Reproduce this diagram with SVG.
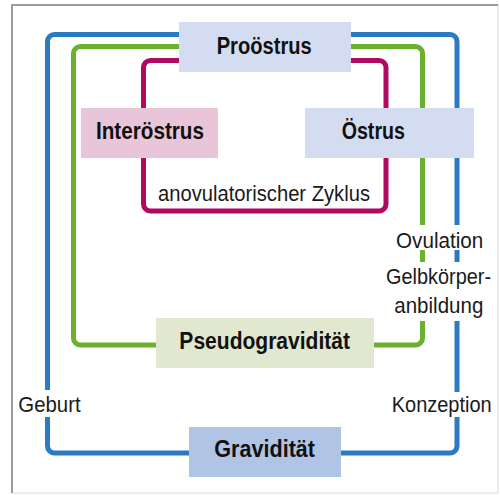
<svg xmlns="http://www.w3.org/2000/svg" width="500" height="495" viewBox="0 0 500 495">
<style>
.line{fill:none;stroke-width:5;stroke-linecap:butt}
.blue{stroke:#2a7bc1}
.green{stroke:#6bb02f}
.mag{stroke:#b0095f}
.lbl{font-family:"Liberation Sans",Arial,sans-serif;font-size:21.5px;fill:#1a1a1a}
.bold{font-family:"Liberation Sans",Arial,sans-serif;font-size:23px;font-weight:bold;fill:#111;text-anchor:middle}
</style>
<rect x="0" y="0" width="500" height="495" fill="#fff"/>
<rect x="12" y="5" width="486" height="488" fill="#fff" stroke="#d8d8d8" stroke-width="1"/>
<path d="M12 493 V5 H498" fill="none" stroke="#9c9c9c" stroke-width="2"/>
<g id="connectors">
<path class="line blue" d="M47.5 390 V41.5 A7 7 0 0 1 54.5 34.5 H450 A7 7 0 0 1 457 41.5 V225 M457 250 V262 M457 321 V392 M457 417 V446 A7 7 0 0 1 450 453 H54.5 A7 7 0 0 1 47.5 446 V417"/>
<path class="line green" d="M422.5 321 V338 A7 7 0 0 1 415.5 345 H80.5 A7 7 0 0 1 73.5 338 V53.5 A7 7 0 0 1 80.5 46.5 H415.5 A7 7 0 0 1 422.5 53.5 V225 M422.5 250 V262"/>
<rect class="line mag" x="143.5" y="60.5" width="242.5" height="150.5" rx="7"/>
</g>
<g id="prooestrus">
<rect x="179" y="22" width="172" height="50" fill="#d3dcf1"/>
<text class="bold" x="264.2" y="54.3" textLength="95" lengthAdjust="spacingAndGlyphs">Proöstrus</text>
</g>
<g id="interoestrus">
<rect x="81" y="108" width="137" height="50" fill="#e8c5d9"/>
<text class="bold" x="150" y="139.3" textLength="108" lengthAdjust="spacingAndGlyphs">Interöstrus</text>
</g>
<g id="oestrus">
<rect x="305" y="108" width="169" height="50" fill="#d3dcf1"/>
<text class="bold" x="373.3" y="139.3" textLength="63.3" lengthAdjust="spacingAndGlyphs">Östrus</text>
</g>
<g id="pseudograviditaet">
<rect x="156" y="318" width="218" height="50" fill="#e1e8cf"/>
<text class="bold" x="264.7" y="349.3" textLength="170.7" lengthAdjust="spacingAndGlyphs">Pseudogravidität</text>
</g>
<g id="graviditaet">
<rect x="189" y="427" width="152" height="50" fill="#b0c4e5"/>
<text class="bold" x="264.7" y="456.7" textLength="100.7" lengthAdjust="spacingAndGlyphs">Gravidität</text>
</g>
<g id="labels">
<text class="lbl" x="158" y="200.7" textLength="212" lengthAdjust="spacingAndGlyphs">anovulatorischer Zyklus</text>
<text class="lbl" x="396" y="248.3" textLength="87.3" lengthAdjust="spacingAndGlyphs">Ovulation</text>
<text class="lbl" x="386" y="284" textLength="105" lengthAdjust="spacingAndGlyphs">Gelbkörper-</text>
<text class="lbl" x="394.3" y="313.3" textLength="89" lengthAdjust="spacingAndGlyphs">anbildung</text>
<text class="lbl" x="18.3" y="411.7" textLength="62.4" lengthAdjust="spacingAndGlyphs">Geburt</text>
<text class="lbl" x="391.7" y="411.7" textLength="100" lengthAdjust="spacingAndGlyphs">Konzeption</text>
</g>
</svg>
